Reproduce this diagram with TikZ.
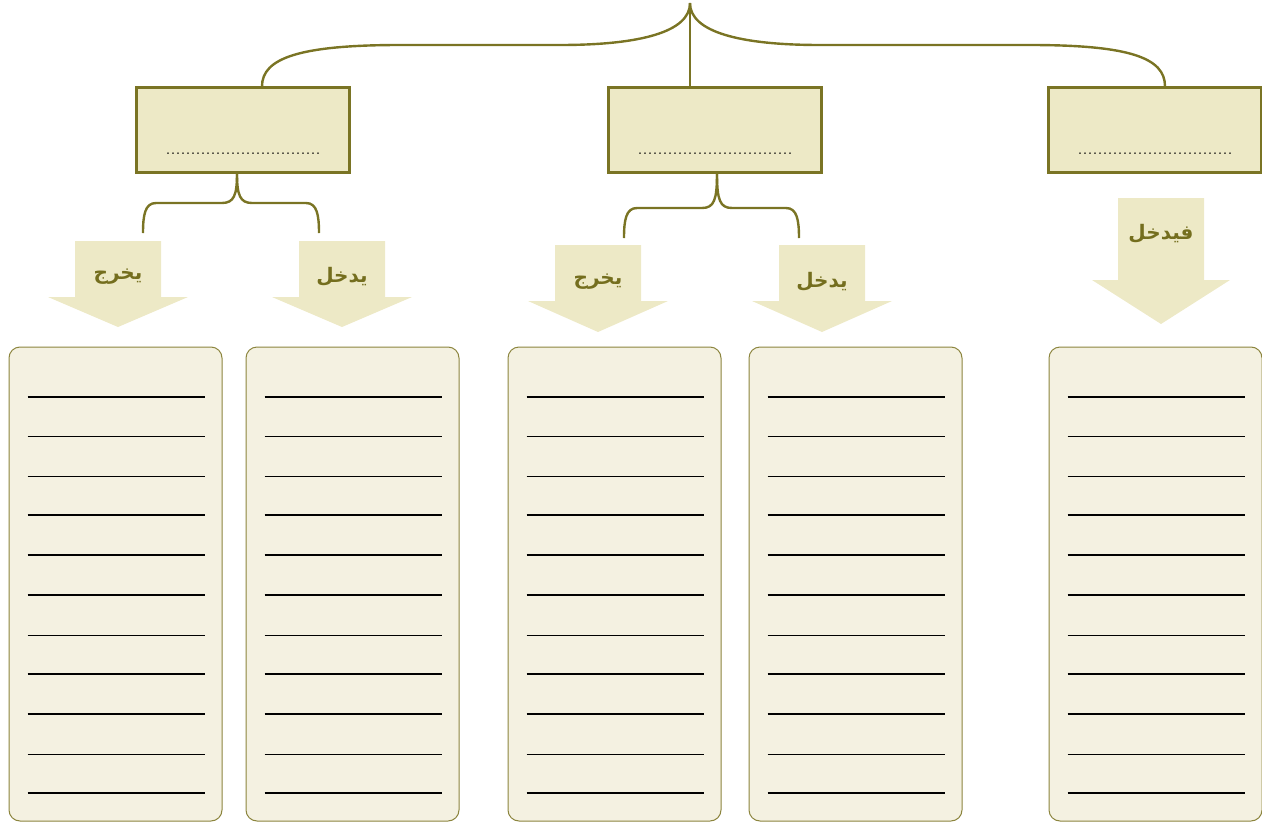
\documentclass[tikz,border=0pt]{standalone}
\usepackage{fontspec}
\usepackage{xcolor}
\usepackage{tikz}
\usetikzlibrary{positioning,calc}
\newfontfamily\arabicfont[Script=Arabic]{DejaVu Sans}
\TeXXeTstate=1
\definecolor{headfill}{RGB}{237,233,198}
\definecolor{headborder}{RGB}{122,116,36}
\definecolor{arrowcol}{RGB}{237,233,198}
\definecolor{listfill}{RGB}{244,241,225}
\definecolor{listborder}{RGB}{140,133,62}
\definecolor{labelcol}{RGB}{116,110,30}

\begin{document}
\begin{tikzpicture}[
                x=1pt, y=-1pt,
                headbox/.style={rectangle, draw=headborder, line width=2.4pt, fill=headfill, minimum width=213pt, minimum height=85pt, inner sep=0pt},
                dotline/.style={font=\fontsize{20}{22}\selectfont, inner sep=0pt, text=black},
                listbox/.style={rectangle, rounded corners=11pt, draw=listborder, line width=1pt, fill=listfill, minimum width=213pt, minimum height=474pt, inner sep=0pt},
                arrowfill/.style={fill=arrowcol},
                arlabel/.style={font=\arabicfont\bfseries\fontsize{20}{24}\selectfont, text=labelcol, inner sep=0pt},
                brace/.style={draw=headborder, line width=2.4pt}
                ]
                \useasboundingbox (0,0) rectangle (1262,825);

                % top level boxes
                \node[headbox] (head1) at (243,130) {};
                \node[headbox] (head2) at (715,130) {};
                \node[headbox] (head3) at (1155,130) {};
                \node[dotline] (dots1) at (243,154) {...............................};
                \node[dotline] (dots2) at (715,154) {...............................};
                \node[dotline] (dots3) at (1155,154) {...............................};

                % main brace
                \coordinate (apex) at (690,3);
                \draw[brace] (head2.north -| apex) -- (apex);
                \draw[brace] (apex) .. controls (690,32) and (640,45) .. (560,45) -- (400,45)
                    .. controls (300,45) and (262,58) .. ($(head1.north)+(19,0)$);
                \draw[brace] (apex) .. controls (690,32) and (740,45) .. (820,45) -- (1030,45)
                    .. controls (1130,45) and (1165,58) .. ($(head3.north)+(10,0)$);

                % small braces
                \draw[brace] ($(head1.south)+(-6,0)$) coordinate (b1) .. controls (237,195) and (234,203) .. (222,203) -- (156,203)
                    .. controls (145,203) and (143,215) .. (143,233);
                \draw[brace] (b1) .. controls (237,195) and (240,203) .. (252,203) -- (306,203)
                    .. controls (317,203) and (319,215) .. (319,233);
                \draw[brace] ($(head2.south)+(2,0)$) coordinate (b2) .. controls (717,200) and (714,208) .. (702,208) -- (637,208)
                    .. controls (626,208) and (624,220) .. (624,238);
                \draw[brace] (b2) .. controls (717,200) and (720,208) .. (732,208) -- (786,208)
                    .. controls (797,208) and (799,220) .. (799,238);

                % down arrows
                \fill[arrowfill, shift={(118,241)}] (-43,0) -- (43,0) -- (43,56) -- (70,56) -- (0,86) -- (-70,56) -- (-43,56) -- cycle;
                \fill[arrowfill, shift={(342,241)}] (-43,0) -- (43,0) -- (43,56) -- (70,56) -- (0,86) -- (-70,56) -- (-43,56) -- cycle;
                \fill[arrowfill, shift={(598,245)}] (-43,0) -- (43,0) -- (43,56) -- (70,56) -- (0,87) -- (-70,56) -- (-43,56) -- cycle;
                \fill[arrowfill, shift={(822,245)}] (-43,0) -- (43,0) -- (43,56) -- (70,56) -- (0,87) -- (-70,56) -- (-43,56) -- cycle;
                \fill[arrowfill, shift={(1161,198)}] (-43,0) -- (43,0) -- (43,82) -- (69,82) -- (0,126) -- (-69,82) -- (-43,82) -- cycle;

                \node[arlabel] (out1) at (118,277) {\beginR يخرج\endR};
                \node[arlabel] (in1) at (342,277) {\beginR يدخل\endR};
                \node[arlabel] (out2) at (598,282) {\beginR يخرج\endR};
                \node[arlabel] (in2) at (822,282) {\beginR يدخل\endR};
                \node[arlabel] (in3) at (1161,234) {\beginR فيدخل\endR};

                % lined boxes
                \foreach \name/\cx in {list1/115.5, list2/352.5, list3/614.5, list4/855.5, list5/1155.5}{
                    \node[listbox] (\name) at (\cx,584) {};
                    \foreach \ly/\lw in {397/1.7, 436/0.9, 476/0.9, 515/1.7, 555/1.7, 595/1.7, 635/0.9, 674/1.7, 714/1.7, 754/0.9, 793/1.7}
                        \draw[black, line width=\lw pt] (\cx-88,\ly) -- (\cx+89,\ly);
                }
            \end{tikzpicture}
\end{document}
